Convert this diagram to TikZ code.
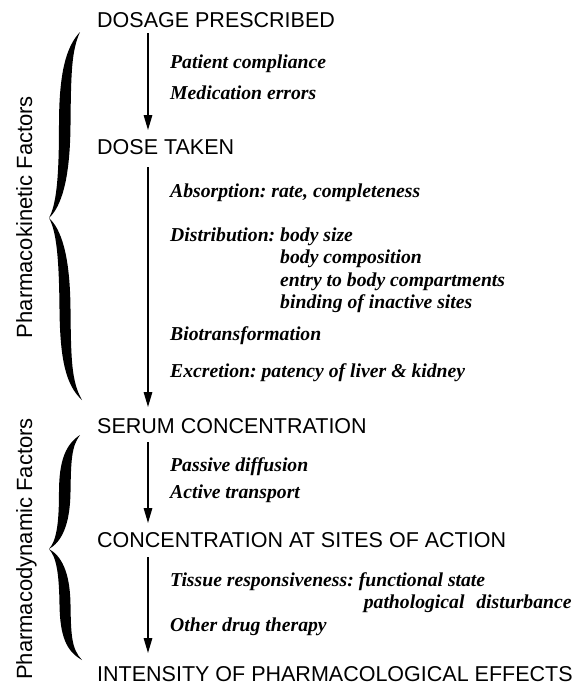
\documentclass[tikz,border=0pt]{standalone}
\usepackage{fontspec}
\setmainfont{Liberation Serif}
\newfontfamily\headfont{Liberation Sans}
\usetikzlibrary{arrows.meta,calc}
\frenchspacing

% calligraphic curly brace: top tip y, cusp y, bottom tip y (y grows downward)
\newcommand\calbrace[3]{%
  \fill (80,#1)
    .. controls (66,{#1+0.08*(#2-#1)}) and (59,{#1+0.22*(#2-#1)}) .. (59,{#1+0.5*(#2-#1)})
    .. controls (59,{#1+0.8*(#2-#1)}) and (56,{#2-0.07*(#2-#1)}) .. (49,#2)
    .. controls (56,{#2+0.07*(#3-#2)}) and (59,{#2+0.2*(#3-#2)}) .. (59.5,{#2+0.5*(#3-#2)})
    .. controls (60,{#2+0.78*(#3-#2)}) and (66,{#3-0.08*(#3-#2)}) .. (82,#3)
    .. controls (71.5,{#3-0.1*(#3-#2)}) and (71,{#2+0.78*(#3-#2)}) .. (70.5,{#2+0.5*(#3-#2)})
    .. controls (70,{#2+0.2*(#3-#2)}) and (61,{#2+0.06*(#3-#2)}) .. (49,#2)
    .. controls (61,{#2-0.06*(#2-#1)}) and (70,{#1+0.8*(#2-#1)}) .. (70.5,{#1+0.5*(#2-#1)})
    .. controls (71,{#1+0.22*(#2-#1)}) and (71.5,{#1+0.1*(#2-#1)}) .. (80,#1) -- cycle;%
}

\tikzset{
  stage/.style={anchor=base west, inner sep=0pt, font=\headfont\fontsize{21.5}{24}\selectfont},
  factor/.style={anchor=base west, inner sep=0pt, font=\bfseries\itshape\fontsize{19.7}{22}\selectfont},
  group/.style={anchor=base, inner sep=0pt, rotate=90, font=\headfont\fontsize{22}{24}\selectfont},
  flow/.style={line width=1.4pt, -{Triangle[length=15pt,width=8.5pt]}},
}

\begin{document}
\begin{tikzpicture}[x=1pt,y=-1pt]
\useasboundingbox (0,0) rectangle (578,686);
\fill[white] (0,0) rectangle (578,686);
\coordinate (axis) at (148,0);

% stages of the dose
\node[stage] (dosage) at (97,27)  {DOSAGE PRESCRIBED};
\node[stage] (dose)   at (97,154) {DOSE TAKEN};
\node[stage] (serum)  at (97,433) {SERUM CONCENTRATION};
\node[stage] (sites)  at (97,547) {CONCENTRATION AT SITES OF ACTION};
\node[stage] (effect) at (97,681) {INTENSITY OF PHARMACOLOGICAL EFFECTS};

% flow between stages
\draw[flow] ($(dosage.base -| axis)+(0,6)$) -- ($(dose.base -| axis)+(0,-24)$);
\draw[flow] ($(dose.base -| axis)+(0,13)$)  -- ($(serum.base -| axis)+(0,-26)$);
\draw[flow] ($(serum.base -| axis)+(0,9)$)  -- ($(sites.base -| axis)+(0,-24)$);
\draw[flow] ($(sites.base -| axis)+(0,10)$) -- ($(effect.base -| axis)+(0,-28)$);

% factors acting between stages
\node[factor] (compl) at (170,68) {Patient compliance};
\node[factor] (error) at (170,99) {Medication errors};

\node[factor] (absorb) at (170,197) {Absorption: rate, completeness};
\node[factor] (distA)  at (170,241) {Distribution: body size};
\node[factor] (distC)  at (170,263.5) {\phantom{Distribution: }body composition};
\node[factor] (distD)  at (170,286) {\phantom{Distribution: }entry to body compartments};
\node[factor] (distE)  at (170,308.5) {\phantom{Distribution: }binding of inactive sites};
\node[factor] (biotr)  at (170,340) {Biotransformation};
\node[factor] (excr)   at (170,377) {Excretion: patency of liver \& kidney};

\node[factor] (passive) at (170,471) {Passive diffusion};
\node[factor] (active)  at (170,498) {Active transport};

\node[factor] (tissA) at (170,586) {Tissue responsiveness: functional state};
\node[factor] (tissC) at (170,608) {\phantom{Tissue responsiveness: }\hspace{5pt}pathological\hspace{0.6em}disturbance};
\node[factor] (other) at (170,631) {Other drug therapy};

% grouping braces and their labels
\calbrace{32}{218}{400}
\calbrace{435}{549}{660}
\node[group] (pk) at (32,217) {Pharmacokinetic Factors};
\node[group] (pd) at (32,549) {Pharmacodynamic Factors};
\end{tikzpicture}
\end{document}
